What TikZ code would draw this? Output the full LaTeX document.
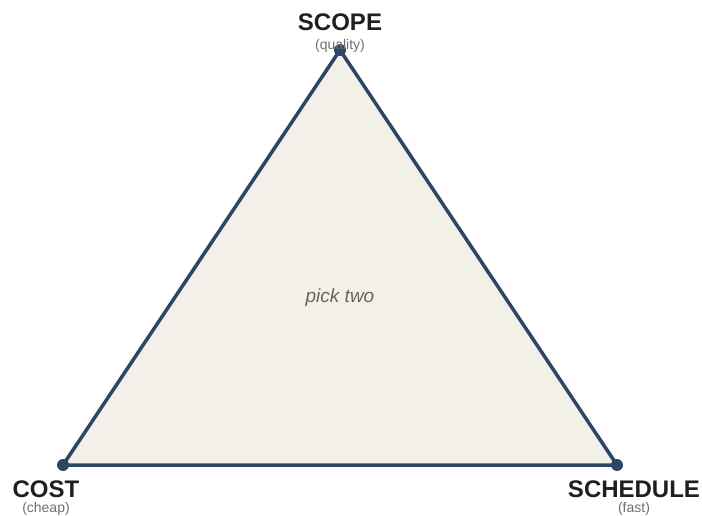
\documentclass[tikz,border=0pt]{standalone}
\usepackage{fontspec}
\setmainfont{Liberation Sans}
\definecolor{edge}{HTML}{2E4665}
\definecolor{fillc}{HTML}{F3F0EA}
\definecolor{subc}{HTML}{6E6E6E}
\definecolor{midc}{HTML}{6B635B}
\begin{document}
\begin{tikzpicture}[x=1pt,y=-1pt,
  vtx/.style={circle,fill=edge,inner sep=0pt,minimum size=12pt},
  title/.style={font=\fontsize{24}{28}\selectfont\bfseries,text=black!88,inner sep=0pt},
  sub/.style={font=\fontsize{14}{16}\selectfont,text=subc,inner sep=0pt}]
\useasboundingbox (0,0) rectangle (702,516);
\coordinate (t) at (340,50);
\coordinate (l) at (63,465);
\coordinate (r) at (617,465);
\fill[fillc] (t) -- (l) -- (r) -- cycle;
\draw[edge,line width=3.5pt,line join=round] (t) -- (l) -- (r) -- cycle;
\node[vtx] (tv) at (t) {};
\node[vtx] (lv) at (l) {};
\node[vtx] (rv) at (r) {};
\node[font=\fontsize{19}{22}\selectfont\itshape,text=midc] (mid) at (340,298) {pick two};
\node[title] (scope) at (340,22) {SCOPE};
\node[sub] (qual) at (340,46) {(quality)};
\node[title] (cost) at (46,489) {COST};
\node[sub] (cheap) at (46,508.5) {(cheap)};
\node[title] (sched) at (634,489) {SCHEDULE};
\node[sub] (fast) at (634,508.5) {(fast)};
\end{tikzpicture}
\end{document}
